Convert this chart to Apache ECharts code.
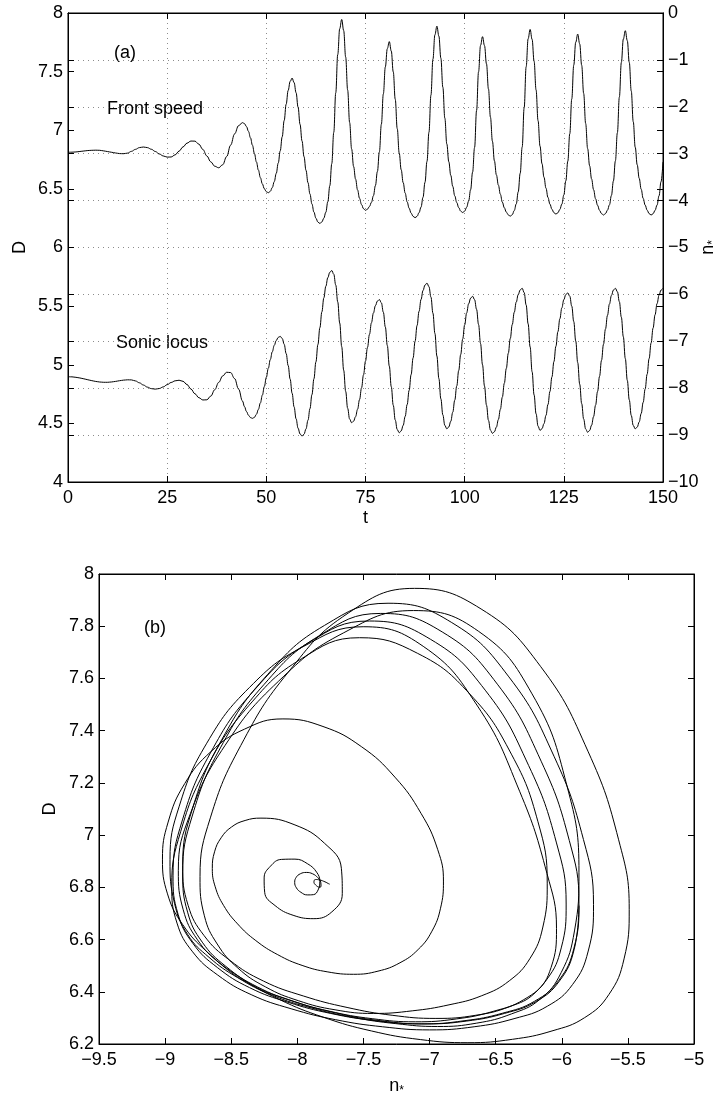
<!DOCTYPE html>
<html>
<head>
<meta charset="utf-8">
<script src="https://cdn.jsdelivr.net/npm/echarts@6/dist/echarts.min.js"></script>
<style>
  html, body { margin: 0; padding: 0; background: #ffffff; }
  #chart { width: 719px; height: 1095px; }
</style>
</head>
<body>
<div id="chart"></div>
<script>
// Sample times of the simulation output
const timeValues = [
  0, 1, 2, 3, 4, 5, 6, 7, 8, 9, 10, 11, 12, 13, 14, 15, 16, 17, 18, 19, 20, 21, 22,
  23, 24, 25, 26, 27, 28, 29, 30, 31, 32, 33, 34, 35, 36, 37, 38, 39, 40, 41, 42, 43, 44,
  44.5, 45, 45.5, 46, 46.5, 47, 47.5, 48, 48.5, 49, 49.5, 50, 50.5,
  51, 51.5, 52, 52.5, 53, 53.5, 54, 54.5, 55, 55.5, 56, 56.5,
  57, 57.5, 58, 58.5, 59, 59.5, 60, 60.5, 61, 61.5, 62, 62.5, 63, 63.5,
  64, 64.5, 65, 65.5, 66, 66.5, 67, 67.5, 68, 68.5, 69,
  69.5, 70, 70.5, 71, 71.5, 72, 72.5, 73, 73.5, 74, 74.5, 75,
  75.5, 76, 76.5, 77, 77.5, 78, 78.5, 79, 79.5, 80, 80.5, 81,
  81.5, 82, 82.5, 83, 83.5, 84, 84.5, 85, 85.5, 86, 86.5, 87, 87.5,
  88, 88.5, 89, 89.5, 90, 90.5, 91, 91.5, 92, 92.5, 93,
  93.5, 94, 94.5, 95, 95.5, 96, 96.5, 97, 97.5, 98, 98.5, 99, 99.5,
  100, 100.5, 101, 101.5, 102, 102.5, 103, 103.5, 104, 104.5,
  105, 105.5, 106, 106.5, 107, 107.5, 108, 108.5, 109, 109.5, 110, 110.5, 111, 111.5,
  112, 112.5, 113, 113.5, 114, 114.5, 115, 115.5, 116, 116.5,
  117, 117.5, 118, 118.5, 119, 119.5, 120, 120.5, 121, 121.5, 122, 122.5, 123,
  123.5, 124, 124.5, 125, 125.5, 126, 126.5, 127, 127.5, 128, 128.5,
  129, 129.5, 130, 130.5, 131, 131.5, 132, 132.5, 133, 133.5, 134, 134.5, 135,
  135.5, 136, 136.5, 137, 137.5, 138, 138.5, 139, 139.5, 140, 140.5,
  141, 141.5, 142, 142.5, 143, 143.5, 144, 144.5, 145, 145.5, 146, 146.5, 147,
  147.5, 148, 148.5, 149, 149.5, 150
];

// Front speed D(t)
const frontSpeed = [
  6.812, 6.813, 6.815, 6.819, 6.823, 6.827, 6.829, 6.830, 6.829, 6.824, 6.818, 6.812,
  6.806, 6.801, 6.800, 6.805, 6.820, 6.837, 6.852, 6.857, 6.852, 6.838, 6.819,
  6.798, 6.781, 6.771, 6.772, 6.790, 6.822, 6.858, 6.890, 6.908, 6.907, 6.881, 6.836,
  6.781, 6.730, 6.693, 6.680, 6.706, 6.776, 6.873, 6.969, 7.039, 7.065,
  7.056, 7.031, 6.990, 6.936, 6.872, 6.802, 6.730, 6.660, 6.596, 6.542, 6.501, 6.476, 6.467,
  6.479, 6.511, 6.562, 6.632, 6.720, 6.824, 6.944, 7.083, 7.222, 7.339, 7.416, 7.445,
  7.406, 7.320, 7.197, 7.050, 6.908, 6.775, 6.658, 6.553, 6.456, 6.371, 6.302, 6.250, 6.217, 6.205,
  6.218, 6.250, 6.301, 6.390, 6.526, 6.716, 6.982, 7.319, 7.645, 7.866, 7.945,
  7.850, 7.625, 7.343, 7.066, 6.841, 6.691, 6.583, 6.491, 6.419, 6.366, 6.331, 6.317,
  6.327, 6.350, 6.385, 6.442, 6.528, 6.648, 6.816, 7.051, 7.310, 7.540, 7.696, 7.756,
  7.675, 7.497, 7.264, 7.014, 6.806, 6.663, 6.553, 6.464, 6.389, 6.335, 6.293, 6.266, 6.254,
  6.266, 6.297, 6.345, 6.428, 6.556, 6.734, 6.983, 7.300, 7.606, 7.814, 7.888,
  7.803, 7.614, 7.367, 7.103, 6.883, 6.731, 6.615, 6.521, 6.441, 6.384, 6.340, 6.310, 6.298,
  6.310, 6.343, 6.396, 6.493, 6.643, 6.853, 7.168, 7.498, 7.723, 7.798,
  7.722, 7.566, 7.352, 7.111, 6.906, 6.739, 6.619, 6.532, 6.454, 6.387, 6.338, 6.302, 6.278, 6.267,
  6.280, 6.315, 6.371, 6.474, 6.633, 6.856, 7.191, 7.541, 7.780, 7.860,
  7.775, 7.589, 7.344, 7.082, 6.864, 6.714, 6.599, 6.506, 6.427, 6.370, 6.326, 6.297, 6.285,
  6.296, 6.325, 6.370, 6.448, 6.568, 6.736, 6.970, 7.267, 7.555, 7.750, 7.820,
  7.737, 7.554, 7.314, 7.058, 6.844, 6.697, 6.584, 6.493, 6.416, 6.360, 6.317, 6.289, 6.277,
  6.289, 6.318, 6.364, 6.444, 6.567, 6.739, 6.979, 7.283, 7.578, 7.778, 7.849,
  7.764, 7.578, 7.334, 7.073, 6.855, 6.705, 6.590, 6.497, 6.419, 6.362, 6.318, 6.289, 6.277,
  6.288, 6.317, 6.362, 6.441, 6.561, 6.730
];

// Sonic locus n*(t)
const sonicLocus = [
  -7.755, -7.758, -7.768, -7.782, -7.800, -7.820, -7.839, -7.856, -7.868, -7.874, -7.874, -7.867,
  -7.855, -7.840, -7.828, -7.821, -7.823, -7.845, -7.885, -7.932, -7.977, -8.009, -8.020,
  -8.007, -7.973, -7.925, -7.878, -7.843, -7.830, -7.854, -7.922, -8.018, -8.119, -8.203, -8.251,
  -8.247, -8.168, -8.032, -7.875, -7.739, -7.660, -7.667, -7.795, -8.018, -8.275,
  -8.395, -8.498, -8.576, -8.626, -8.643, -8.621, -8.557, -8.452, -8.314, -8.148, -7.964, -7.769, -7.574,
  -7.390, -7.224, -7.086, -6.982, -6.917, -6.895, -6.938, -7.064, -7.262, -7.516, -7.806, -8.109,
  -8.399, -8.653, -8.852, -8.977, -9.020, -8.982, -8.868, -8.683, -8.436, -8.138, -7.800, -7.440, -7.070, -6.710,
  -6.373, -6.074, -5.827, -5.643, -5.529, -5.490, -5.570, -5.800, -6.159, -6.610, -7.113,
  -7.616, -8.067, -8.428, -8.658, -8.736, -8.703, -8.606, -8.450, -8.242, -7.993, -7.715, -7.423,
  -7.131, -6.853, -6.605, -6.397, -6.240, -6.143, -6.110, -6.180, -6.381, -6.695, -7.090, -7.530,
  -7.970, -8.365, -8.680, -8.882, -8.950, -8.910, -8.792, -8.602, -8.349, -8.047, -7.710, -7.355, -7.000,
  -6.663, -6.361, -6.108, -5.918, -5.800, -5.760, -5.836, -6.057, -6.400, -6.832, -7.314,
  -7.795, -8.227, -8.570, -8.792, -8.867, -8.826, -8.705, -8.512, -8.256, -7.955, -7.624, -7.283, -6.952,
  -6.651, -6.395, -6.202, -6.081, -6.040, -6.112, -6.319, -6.642, -7.048, -7.502,
  -7.955, -8.361, -8.685, -8.893, -8.963, -8.929, -8.829, -8.668, -8.451, -8.190, -7.894, -7.578, -7.255, -6.939,
  -6.643, -6.382, -6.165, -6.004, -5.904, -5.870, -5.962, -6.225, -6.628, -7.121,
  -7.649, -8.143, -8.546, -8.809, -8.900, -8.863, -8.755, -8.580, -8.348, -8.070, -7.760, -7.434, -7.107,
  -6.797, -6.519, -6.287, -6.112, -6.004, -5.967, -6.040, -6.251, -6.579, -6.993, -7.454,
  -7.914, -8.328, -8.658, -8.869, -8.940, -8.902, -8.788, -8.605, -8.362, -8.071, -7.747, -7.405, -7.063,
  -6.739, -6.448, -6.205, -6.022, -5.908, -5.870, -5.943, -6.156, -6.487, -6.904, -7.369,
  -7.833, -8.250, -8.582, -8.795, -8.867, -8.830, -8.719, -8.540, -8.303, -8.019, -7.702, -7.369, -7.035,
  -6.718, -6.434, -6.197, -6.018, -5.907, -5.870
];

// Axis ranges: [min, max, step]
const timeAxis = [0, 150, 25];
const speedAxisTop = [4, 8, 0.5];
const locusAxisTop = [-10, 0, 1];
const locusAxisBottom = [-9.5, -5, 0.5];
const speedAxisBottom = [6.2, 8, 0.2];

const FONT = "'Liberation Sans', Arial, Helvetica, sans-serif";
const INK = '#000000';

function fmt(v) {
  const r = Math.round(v * 100) / 100;
  return (r < 0 ? '\u2212' : '') + String(Math.abs(r));
}

const frontData = timeValues.map((t, i) => [t, frontSpeed[i]]);
const sonicData = timeValues.map((t, i) => [t, sonicLocus[i]]);
const phaseData = timeValues.map((t, i) => [sonicLocus[i], frontSpeed[i]]);

const tickIn = { show: true, inside: true, length: 6, lineStyle: { color: INK, width: 1 } };
const lineOn = { show: true, onZero: false, lineStyle: { color: INK, width: 1 } };
const labelStyle = { color: INK, fontSize: 18, fontFamily: FONT, formatter: fmt, showMinLabel: true, showMaxLabel: true };
const dotted = { show: true, showMinLine: false, showMaxLine: false,
                 lineStyle: { color: '#8c8c8c', width: 1, type: [1, 4] } };
const nameStyle = { color: INK, fontSize: 18, fontFamily: FONT };
const subName = '{n|n}{s|*}';
const subNameStyle = {
  color: INK, fontSize: 18, fontFamily: FONT,
  rich: {
    n: { fontSize: 18, fontFamily: FONT, color: INK },
    s: { fontSize: 12, fontFamily: FONT, color: INK, padding: [9, 0, 0, 0] }
  }
};

function range(a) { return { min: a[0], max: a[1], interval: a[2] }; }

const chart = echarts.init(document.getElementById('chart'), null, { renderer: 'canvas' });

chart.setOption({
  animation: false,
  backgroundColor: '#ffffff',
  grid: [
    { left: 68, top: 13, width: 595, height: 469, containLabel: false, outerBoundsMode: 'none',
      show: true, borderColor: INK, borderWidth: 1, backgroundColor: 'transparent' },
    { left: 99, top: 574, width: 595, height: 470, containLabel: false, outerBoundsMode: 'none',
      show: true, borderColor: INK, borderWidth: 1, backgroundColor: 'transparent' }
  ],
  xAxis: [
    Object.assign({ type: 'value', gridIndex: 0, position: 'bottom',
      axisLine: lineOn, axisTick: tickIn, axisLabel: Object.assign({ margin: 7 }, labelStyle),
      splitLine: dotted,
      name: 't', nameLocation: 'middle', nameGap: 27, nameMoveOverlap: false, nameTextStyle: nameStyle }, range(timeAxis)),
    Object.assign({ type: 'value', gridIndex: 0, position: 'top',
      axisLine: lineOn, axisTick: tickIn, axisLabel: { show: false }, splitLine: { show: false } }, range(timeAxis)),
    Object.assign({ type: 'value', gridIndex: 1, position: 'bottom',
      axisLine: lineOn, axisTick: tickIn, axisLabel: Object.assign({ margin: 7 }, labelStyle),
      splitLine: { show: false },
      name: subName, nameLocation: 'middle', nameGap: 32, nameMoveOverlap: false, nameTextStyle: subNameStyle }, range(locusAxisBottom)),
    Object.assign({ type: 'value', gridIndex: 1, position: 'top',
      axisLine: lineOn, axisTick: tickIn, axisLabel: { show: false }, splitLine: { show: false } }, range(locusAxisBottom))
  ],
  yAxis: [
    Object.assign({ type: 'value', gridIndex: 0, position: 'left',
      axisLine: lineOn, axisTick: tickIn, axisLabel: Object.assign({ margin: 5 }, labelStyle),
      splitLine: { show: false },
      name: 'D', nameLocation: 'middle', nameGap: 39, nameRotate: 90, nameMoveOverlap: false, nameTextStyle: nameStyle }, range(speedAxisTop)),
    Object.assign({ type: 'value', gridIndex: 0, position: 'right',
      axisLine: lineOn, axisTick: tickIn, axisLabel: Object.assign({ margin: 5 }, labelStyle),
      splitLine: dotted,
      name: subName, nameLocation: 'middle', nameGap: 35, nameRotate: 90, nameMoveOverlap: false, nameTextStyle: subNameStyle }, range(locusAxisTop)),
    Object.assign({ type: 'value', gridIndex: 0, position: 'right',
      axisLine: lineOn, axisTick: tickIn, axisLabel: { show: false }, splitLine: { show: false } }, range(speedAxisTop)),
    Object.assign({ type: 'value', gridIndex: 0, position: 'left',
      axisLine: lineOn, axisTick: tickIn, axisLabel: { show: false }, splitLine: { show: false } }, range(locusAxisTop)),
    Object.assign({ type: 'value', gridIndex: 1, position: 'left',
      axisLine: lineOn, axisTick: tickIn, axisLabel: Object.assign({ margin: 5 }, labelStyle),
      splitLine: { show: false },
      name: 'D', nameLocation: 'middle', nameGap: 40, nameRotate: 90, nameMoveOverlap: false, nameTextStyle: nameStyle }, range(speedAxisBottom)),
    Object.assign({ type: 'value', gridIndex: 1, position: 'right',
      axisLine: lineOn, axisTick: tickIn, axisLabel: { show: false }, splitLine: { show: false } }, range(speedAxisBottom))
  ],
  series: [
    { name: 'Front speed', type: 'line', xAxisIndex: 0, yAxisIndex: 0, data: frontData,
      showSymbol: false, smooth: 0.4, smoothMonotone: 'x', clip: true,
      lineStyle: { color: INK, width: 1 }, z: 5 },
    { name: 'Sonic locus', type: 'line', xAxisIndex: 0, yAxisIndex: 1, data: sonicData,
      showSymbol: false, smooth: 0.4, smoothMonotone: 'x', clip: true,
      lineStyle: { color: INK, width: 1 }, z: 5 },
    { name: 'Phase portrait', type: 'line', xAxisIndex: 2, yAxisIndex: 4, data: phaseData,
      showSymbol: false, smooth: 0.45, clip: true,
      lineStyle: { color: INK, width: 1 }, z: 5 }
  ],
  graphic: [
    { type: 'text', x: 114, y: 53, style: { text: '(a)', fill: INK, font: '18px ' + FONT, verticalAlign: 'middle' } },
    { type: 'text', x: 107, y: 109, style: { text: 'Front speed', fill: INK, font: '18px ' + FONT, verticalAlign: 'middle' } },
    { type: 'text', x: 116, y: 343, style: { text: 'Sonic locus', fill: INK, font: '18px ' + FONT, verticalAlign: 'middle' } },
    { type: 'text', x: 144, y: 628, style: { text: '(b)', fill: INK, font: '18px ' + FONT, verticalAlign: 'middle' } }
  ]
});
</script>
</body>
</html>
